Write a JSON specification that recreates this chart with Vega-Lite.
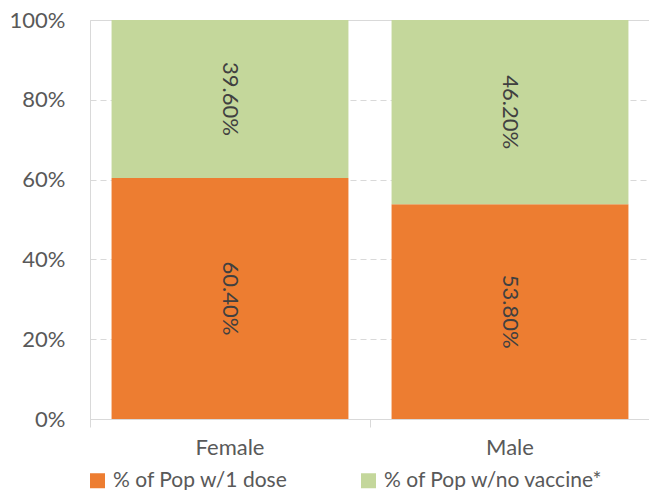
{
  "$schema": "https://vega.github.io/schema/vega-lite/v6.json",
  "autosize": "none",
  "padding": {"left": 90, "top": 20, "right": 0, "bottom": 71},
  "width": 560,
  "height": 399,
  "title": {"text": "that sex", "fontSize": 22, "font": "Lato", "fontWeight": "bold", "color": "#595959", "baseline": "bottom", "offset": -12, "dx": -22, "anchor": "middle"},
  "data": {"values": [
    {"sex": "Female", "series": "% of Pop w/1 dose", "value": 0.604, "label": "60.40%", "ord": 1},
    {"sex": "Female", "series": "% of Pop w/no vaccine*", "value": 0.396, "label": "39.60%", "ord": 2},
    {"sex": "Male", "series": "% of Pop w/1 dose", "value": 0.538, "label": "53.80%", "ord": 1},
    {"sex": "Male", "series": "% of Pop w/no vaccine*", "value": 0.462, "label": "46.20%", "ord": 2}
  ]},
  "encoding": {
    "x": {"field": "sex", "type": "nominal", "scale": {"paddingInner": 0, "paddingOuter": 0},
      "axis": {"title": null, "labelAngle": 0, "bandPosition": 0, "domainColor": "#d9d9d9", "tickColor": "#d9d9d9", "tickSize": 8, "labelPadding": 10, "labelFontSize": 22, "labelColor": "#595959", "labelFont": "Lato", "grid": false}},
    "y": {"field": "value", "type": "quantitative", "stack": "zero", "scale": {"domain": [0, 1], "nice": false},
      "axis": {"title": null, "format": ".0%", "values": [0, 0.2, 0.4, 0.6, 0.8, 1], "domain": false, "ticks": false, "labelPadding": 25, "labelFontSize": 22, "labelColor": "#595959", "labelFont": "Lato", "grid": true, "gridColor": "#d9d9d9", "gridDash": [6, 4]}},
    "order": {"field": "ord", "type": "quantitative"}
  },
  "layer": [
    {"mark": {"type": "bar", "width": {"band": 0.846}},
     "encoding": {
       "color": {"field": "series", "type": "nominal",
         "scale": {"domain": ["% of Pop w/1 dose", "% of Pop w/no vaccine*"], "range": ["#ED7D31", "#C4D79B"]},
         "legend": {"orient": "none", "legendX": -3, "legendY": 450, "direction": "horizontal", "title": null, "symbolType": "square", "symbolSize": 225, "symbolStrokeWidth": 0, "labelFontSize": 21, "labelColor": "#595959", "labelFont": "Lato", "labelOffset": 5, "columnPadding": 70, "labelLimit": 300}}
     }},
    {"mark": {"type": "text", "angle": 90, "fontSize": 22, "font": "Lato", "color": "#404040"},
     "encoding": {"text": {"field": "label"}, "y": {"field": "value", "type": "quantitative", "stack": "zero", "bandPosition": 0.5}}}
  ],
  "config": {"view": {"stroke": "#d9d9d9"}}
}
